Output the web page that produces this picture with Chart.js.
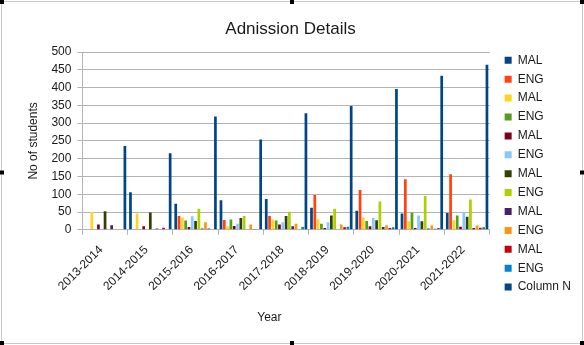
<!DOCTYPE html>
<html>
<head>
<meta charset="utf-8">
<title>Adnission Details</title>
<script src="https://cdn.jsdelivr.net/npm/chart.js@4/dist/chart.umd.min.js"></script>
<style>
  html, body { margin: 0; padding: 0; background: #fff; }
  #wrap { width: 584px; height: 345px; position: relative; }
</style>
</head>
<body>
<div id="wrap"><canvas id="admissionChart" width="584" height="345"></canvas></div>
<script>
// Academic years on the x axis
const years = ['2013-2014', '2014-2015', '2015-2016', '2016-2017', '2017-2018',
               '2018-2019', '2019-2020', '2020-2021', '2021-2022'];

// Series names, in legend order
const seriesNames = ['MAL', 'ENG', 'MAL', 'ENG', 'MAL', 'ENG',
                     'MAL', 'ENG', 'MAL', 'ENG', 'MAL', 'ENG', 'Column N'];

// Student counts per series, one value per year
const mal1 = [0, 106, 73, 83, 87, 62, 54, 46, 47];
const eng1 = [0, 0, 39, 28, 39, 98, 112, 142, 156];
const mal2 = [50, 46, 35, 10, 29, 30, 35, 24, 27];
const eng2 = [0, 0, 26, 29, 26, 17, 25, 48, 40];
const mal3 = [15, 10, 8, 11, 15, 5, 10, 5, 9];
const eng3 = [0, 0, 38, 17, 21, 21, 33, 40, 50];
const mal4 = [52, 49, 25, 33, 39, 40, 27, 24, 37];
const eng4 = [0, 0, 59, 39, 51, 59, 80, 95, 85];
const mal5 = [13, 4, 4, 2, 10, 2, 8, 4, 5];
const eng5 = [0, 0, 21, 15, 17, 15, 13, 12, 12];
const mal6 = [0, 6, 4, 1, 0, 7, 5, 3, 6];
const eng6 = [0, 0, 0, 2, 8, 9, 7, 5, 7];
const columnN = [236, 215, 319, 254, 328, 348, 396, 433, 464];

// Y axis range
const yMax = 500;
const yStep = 50;

const seriesValues = [mal1, eng1, mal2, eng2, mal3, eng3, mal4, eng4, mal5, eng5, mal6, eng6, columnN];

// LibreOffice default palette
const palette = ['#004586', '#ff420e', '#ffd320', '#579d1c', '#7e0021', '#83caff',
                 '#314004', '#aecf00', '#4b1f6f', '#ff950e', '#c5000b', '#0084d1', '#004586'];

const FONT = '"Liberation Sans", Arial, sans-serif';
const GRID = '#b3b3b3';
const TEXT = '#1a1a1a';

// White background, thin frame and the small handle marks round the edge
const framePlugin = {
    id: 'frame',
    beforeDraw(chart) {
        const c = chart.ctx;
        c.save();
        c.fillStyle = '#fff';
        c.fillRect(0, 0, chart.width, chart.height);
        c.strokeStyle = '#c8c8c8';
        c.lineWidth = 1;
        c.strokeRect(1.5, 1.5, chart.width - 3, chart.height - 3);
        c.restore();
    },
    afterDraw(chart) {
        const c = chart.ctx;
        const w = chart.width, h = chart.height;
        const marks = [[0, 0], [w / 2 - 2, 0], [w - 4, 0],
                       [0, h / 2 - 2], [w - 4, h / 2 - 2],
                       [0, h - 4], [w / 2 - 2, h - 4], [w - 4, h - 4]];
        c.save();
        c.fillStyle = '#000';
        marks.forEach(([x, y]) => c.fillRect(x, y, 4, 4));
        c.restore();
    }
};

// Nudge the legend a little to the right of the plot
const legendGapPlugin = {
    id: 'legendGap',
    afterLayout(chart) {
        if (chart.legend) {
            chart.legend.left += 8;
            chart.legend.right += 8;
        }
    }
};

function buildChart() {
    const ctx = document.getElementById('admissionChart').getContext('2d');

    const datasets = seriesNames.map((name, i) => ({
        label: name,
        data: seriesValues[i],
        backgroundColor: palette[i],
        borderWidth: 0,
        categoryPercentage: 0.95,
        barPercentage: 0.82
    }));

    new Chart(ctx, {
        type: 'bar',
        data: { labels: years, datasets: datasets },
        options: {
            responsive: false,
            animation: false,
            devicePixelRatio: 1,
            layout: { padding: { left: 8, right: 11, top: 0, bottom: 16 } },
            plugins: {
                title: {
                    display: true,
                    text: 'Adnission Details',
                    color: TEXT,
                    font: { family: FONT, size: 17, weight: 'normal' },
                    padding: { top: 19, bottom: 12.6 }
                },
                legend: {
                    position: 'right',
                    align: 'start',
                    title: {
                        display: true,
                        text: '',
                        font: { family: FONT, size: 12 },
                        padding: { top: 33, bottom: 0 }
                    },
                    labels: {
                        boxWidth: 7,
                        boxHeight: 7,
                        padding: 6.9,
                        color: TEXT,
                        font: { family: FONT, size: 12 }
                    }
                },
                tooltip: { enabled: false }
            },
            scales: {
                x: {
                    offset: true,
                    grid: {
                        offset: true,
                        drawOnChartArea: true,
                        color: (c) => (c.index === years.length ? GRID : 'rgba(0,0,0,0)'),
                        tickColor: GRID,
                        tickLength: 5
                    },
                    border: { color: GRID },
                    ticks: {
                        autoSkip: false,
                        minRotation: 45,
                        maxRotation: 45,
                        padding: 8,
                        labelOffset: -4,
                        color: TEXT,
                        font: { family: FONT, size: 12 }
                    },
                    title: {
                        display: true,
                        // trailing spaces pull the centred title a little to the left
                        text: 'Year' + ' '.repeat(10),
                        color: TEXT,
                        font: { family: FONT, size: 12 },
                        padding: { top: 9, bottom: 4 }
                    }
                },
                y: {
                    min: 0,
                    max: yMax,
                    grid: { color: GRID, tickColor: GRID, tickLength: 5 },
                    border: { color: GRID },
                    ticks: {
                        stepSize: yStep,
                        autoSkip: false,
                        padding: 6,
                        color: TEXT,
                        font: { family: FONT, size: 12 }
                    },
                    title: {
                        display: true,
                        text: 'No of students',
                        color: TEXT,
                        font: { family: FONT, size: 12 },
                        padding: { top: 18, bottom: 5 }
                    }
                }
            }
        },
        plugins: [framePlugin, legendGapPlugin]
    });
}

document.addEventListener('DOMContentLoaded', function () {
    buildChart();
});
</script>
</body>
</html>
